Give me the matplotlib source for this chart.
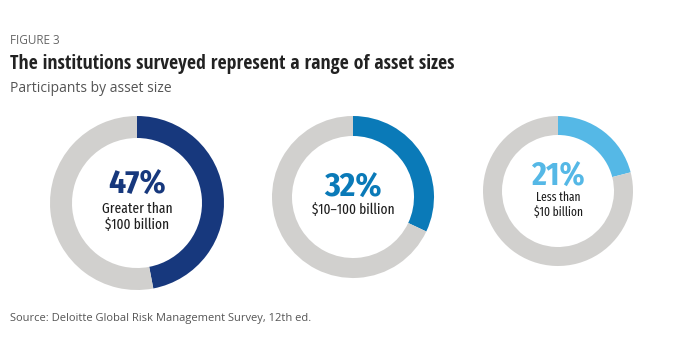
import matplotlib
matplotlib.use("Agg")
import matplotlib.pyplot as plt

# data
shares = [47, 32, 21]
pct_labels = ["47%", "32%", "21%"]
sub_labels = ["Greater than\n$100 billion", "$10\u2013100 billion", "Less than\n$10 billion"]
colors = ["#17387d", "#0a7ab8", "#55b8e6"]
gray = "#d1d0ce"

# layout in pixel units (top-left origin)
W, H = 673, 358
centers = [(137, 203), (353, 197), (558, 191)]
radii = [87, 81, 75]
ring = [22, 20, 19]
pct_y = [185, 188, 177]
sub_y = [217, 210, 205]
pct_size = [24, 24, 23]
sub_size = [10.5, 10.5, 9]

COND = ["Fira Sans Condensed", "DejaVu Sans"]
XCOND = ["Fira Sans Extra Condensed", "DejaVu Sans"]
TITLE = ["Open Sans Condensed", "DejaVu Sans"]
SANS = ["Open Sans", "DejaVu Sans"]

fig = plt.figure(figsize=(W / 100, H / 100), dpi=100)
ax = fig.add_axes([0, 0, 1, 1])
ax.set_xlim(0, W); ax.set_ylim(0, H); ax.set_aspect("equal"); ax.axis("off")

for i, s in enumerate(shares):
    cx, cy = centers[i]
    ax.pie([s, 100 - s], colors=[colors[i], gray], startangle=90, counterclock=False,
           center=(cx, H - cy), radius=radii[i],
           wedgeprops=dict(width=ring[i], linewidth=0))
    ax.text(cx, H - pct_y[i], pct_labels[i], ha="center", va="center", color=colors[i],
            fontsize=pct_size[i], fontweight="bold", family=COND)
    ax.text(cx, H - sub_y[i], sub_labels[i], ha="center", va="center", color="#1e1e1e",
            fontsize=sub_size[i], fontweight="normal", family=XCOND, linespacing=1.2)

ax.set_xlim(0, W); ax.set_ylim(0, H)

fig.text(10 / W, 1 - 40 / H, "FIGURE 3", fontsize=8.5, color="#666666", family=SANS, va="center")
fig.text(10 / W, 1 - 64 / H, "The institutions surveyed represent a range of asset sizes",
         fontsize=14.2, fontweight="bold", color="#222222", family=TITLE, va="center")
fig.text(10 / W, 1 - 88 / H, "Participants by asset size", fontsize=10, color="#555555",
         family=SANS, va="center")
fig.text(10 / W, 1 - 318 / H, "Source: Deloitte Global Risk Management Survey, 12th ed.",
         fontsize=8, color="#555555", family=SANS, va="center")

fig.savefig("out.png", dpi=100)
